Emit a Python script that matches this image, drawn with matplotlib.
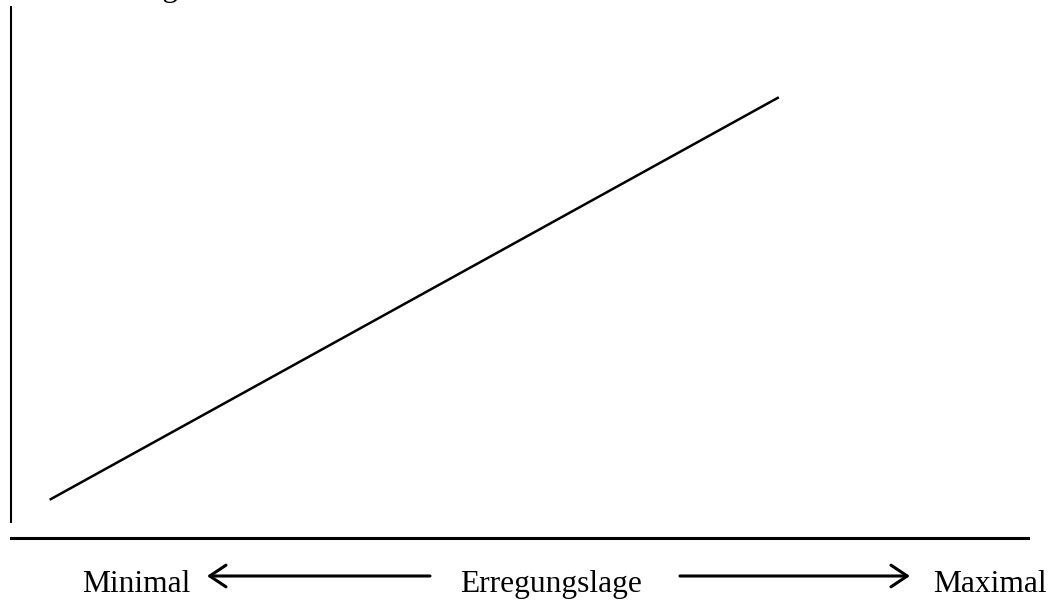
import matplotlib.pyplot as plt
from matplotlib.patches import FancyArrowPatch

# Erregungslage (x) vs. Leistung (y), in percent of the axis
erregung = [3.8, 75.5]
leistung = [7.2, 83.0]

achse_links = "Minimal"
achse_mitte = "Erregungslage"
achse_rechts = "Maximal"
y_titel = "Leistung"

W, H = 1055, 603
plt.rcParams['font.family'] = ['Liberation Serif', 'DejaVu Serif']
fs = 22.7

fig = plt.figure(figsize=(W / 100, H / 100), dpi=100)
ax = fig.add_axes([11 / W, 1 - 538 / H, (1028 - 11) / W, (538 - 7) / H])
ax.set_xlim(0, 100)
ax.set_ylim(0, 100)
ax.plot(erregung, leistung, color='black', lw=1.8, solid_capstyle='butt')

ax.spines['top'].set_visible(False)
ax.spines['right'].set_visible(False)
ax.spines['left'].set_linewidth(1.5)
ax.spines['left'].set_bounds(3, 100)
ax.spines['bottom'].set_linewidth(2.2)
ax.set_xticks([])
ax.set_yticks([])
ax.patch.set_alpha(0)

# y label, cut off at the top edge like in the original
fig.text(68 / W, 1 + 4 / H, y_titel, fontsize=fs, va='baseline', ha='left')

base = 1 - 592 / H
fig.text(82 / W, base, achse_links, fontsize=fs, va='baseline', ha='left')
fig.text(551 / W, base, achse_mitte, fontsize=fs, va='baseline', ha='center')
fig.text(1047 / W, base, achse_rechts, fontsize=fs, va='baseline', ha='right')

arrow_y = 1 - 576 / H
style = dict(arrowstyle='->,head_length=0.9,head_width=0.6', lw=2.2, color='black',
             shrinkA=0, shrinkB=0, mutation_scale=13)
fig.add_artist(FancyArrowPatch((430 / W, arrow_y), (207 / W, arrow_y),
                               transform=fig.transFigure, **style))
fig.add_artist(FancyArrowPatch((680 / W, arrow_y), (910 / W, arrow_y),
                               transform=fig.transFigure, **style))

fig.savefig('out.png', dpi=100)
